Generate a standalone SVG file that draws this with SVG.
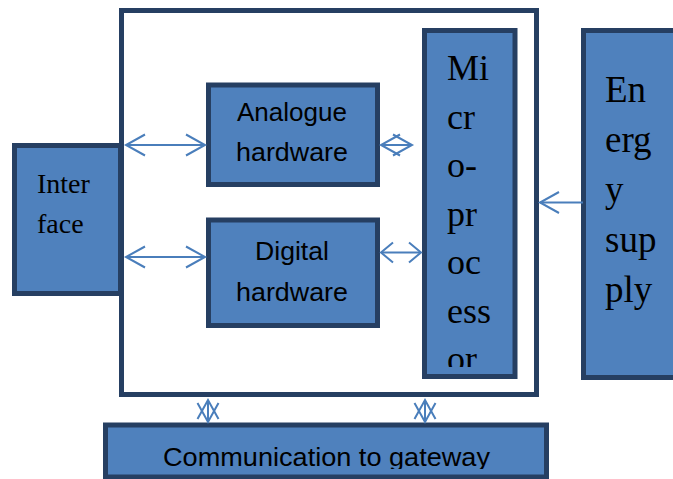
<svg xmlns="http://www.w3.org/2000/svg" width="673" height="479" viewBox="0 0 673 479">
<style>
.box{fill:#4f81bd;stroke:#263f62;stroke-width:5}
.frame{fill:none;stroke:#263f62;stroke-width:5}
.conn line{stroke:#4a7ebb;stroke-width:2;fill:none}
.serif{font-family:"Liberation Serif","Times New Roman",serif;fill:#000}
.sans{font-family:"Liberation Sans",Arial,sans-serif;fill:#000;text-anchor:middle}
</style>
<defs>
<marker id="big" viewBox="-21 -12 23 24" markerWidth="23" markerHeight="24" refX="0" refY="0" markerUnits="userSpaceOnUse" orient="auto-start-reverse" overflow="visible">
<path d="M-19,-10.5 L0,0 L-19,10.5" fill="none" stroke="#4a7ebb" stroke-width="2"/>
</marker>
<marker id="small" viewBox="-14 -12 16 24" markerWidth="16" markerHeight="24" refX="0" refY="0" markerUnits="userSpaceOnUse" orient="auto-start-reverse" overflow="visible">
<path d="M-12,-10 L0,0 L-12,10" fill="none" stroke="#4a7ebb" stroke-width="2"/>
</marker>
<clipPath id="clipMicro"><rect x="424" y="30" width="92" height="337"/></clipPath>
<clipPath id="clipComm"><rect x="105" y="425" width="442" height="44"/></clipPath>
</defs>

<g id="container"><rect class="frame" x="121.5" y="10.5" width="415" height="384"/></g>

<g id="interface">
<rect class="box" x="14.5" y="145.5" width="106" height="148"/>
<text class="serif" font-size="28" x="37" y="193">Inter</text>
<text class="serif" font-size="28" x="37" y="233">face</text>
</g>

<g id="analogue">
<rect class="box" x="208.5" y="85" width="169" height="99.5"/>
<text class="sans" font-size="26" x="292" y="121" textLength="110" lengthAdjust="spacingAndGlyphs">Analogue</text>
<text class="sans" font-size="26" x="292" y="161" textLength="112" lengthAdjust="spacingAndGlyphs">hardware</text>
</g>

<g id="digital">
<rect class="box" x="208.5" y="220" width="169" height="105.5"/>
<text class="sans" font-size="26" x="292" y="260" textLength="74" lengthAdjust="spacingAndGlyphs">Digital</text>
<text class="sans" font-size="26" x="292" y="301" textLength="112" lengthAdjust="spacingAndGlyphs">hardware</text>
</g>

<g id="microprocessor">
<rect class="box" x="424.5" y="30.5" width="90.5" height="346"/>
<g clip-path="url(#clipMicro)" class="serif" font-size="36">
<text x="447" y="80">Mi</text>
<text x="447" y="128.5">cr</text>
<text x="447" y="177">o-</text>
<text x="447" y="225.5">pr</text>
<text x="447" y="274">oc</text>
<text x="447" y="322.5">ess</text>
<text x="447" y="371">or</text>
</g>
</g>

<g id="energy">
<rect class="box" x="583.5" y="30.5" width="100" height="347"/>
<g class="serif" font-size="37">
<text x="605" y="102">En</text>
<text x="605" y="152">erg</text>
<text x="605" y="202">y</text>
<text x="605" y="252">sup</text>
<text x="605" y="302">ply</text>
</g>
</g>

<g id="communication">
<rect class="box" x="105.5" y="425" width="441" height="52"/>
<g clip-path="url(#clipComm)">
<text class="sans" font-size="26" x="326.5" y="466" textLength="327" lengthAdjust="spacingAndGlyphs">Communication to gateway</text>
</g>
</g>

<g id="connectors" class="conn">
<line x1="126" y1="145" x2="205" y2="145" marker-start="url(#big)" marker-end="url(#big)"/>
<line x1="126" y1="257" x2="205" y2="257" marker-start="url(#big)" marker-end="url(#big)"/>
<line x1="381" y1="145" x2="412" y2="145" marker-start="url(#big)" marker-end="url(#big)"/>
<line x1="381" y1="252.5" x2="421" y2="252.5" marker-start="url(#small)" marker-end="url(#small)"/>
<line x1="583" y1="202.5" x2="540" y2="202.5" marker-end="url(#big)"/>
<line x1="208" y1="400" x2="208" y2="422" marker-start="url(#big)" marker-end="url(#big)"/>
<line x1="425" y1="400" x2="425" y2="422" marker-start="url(#big)" marker-end="url(#big)"/>
</g>
</svg>
